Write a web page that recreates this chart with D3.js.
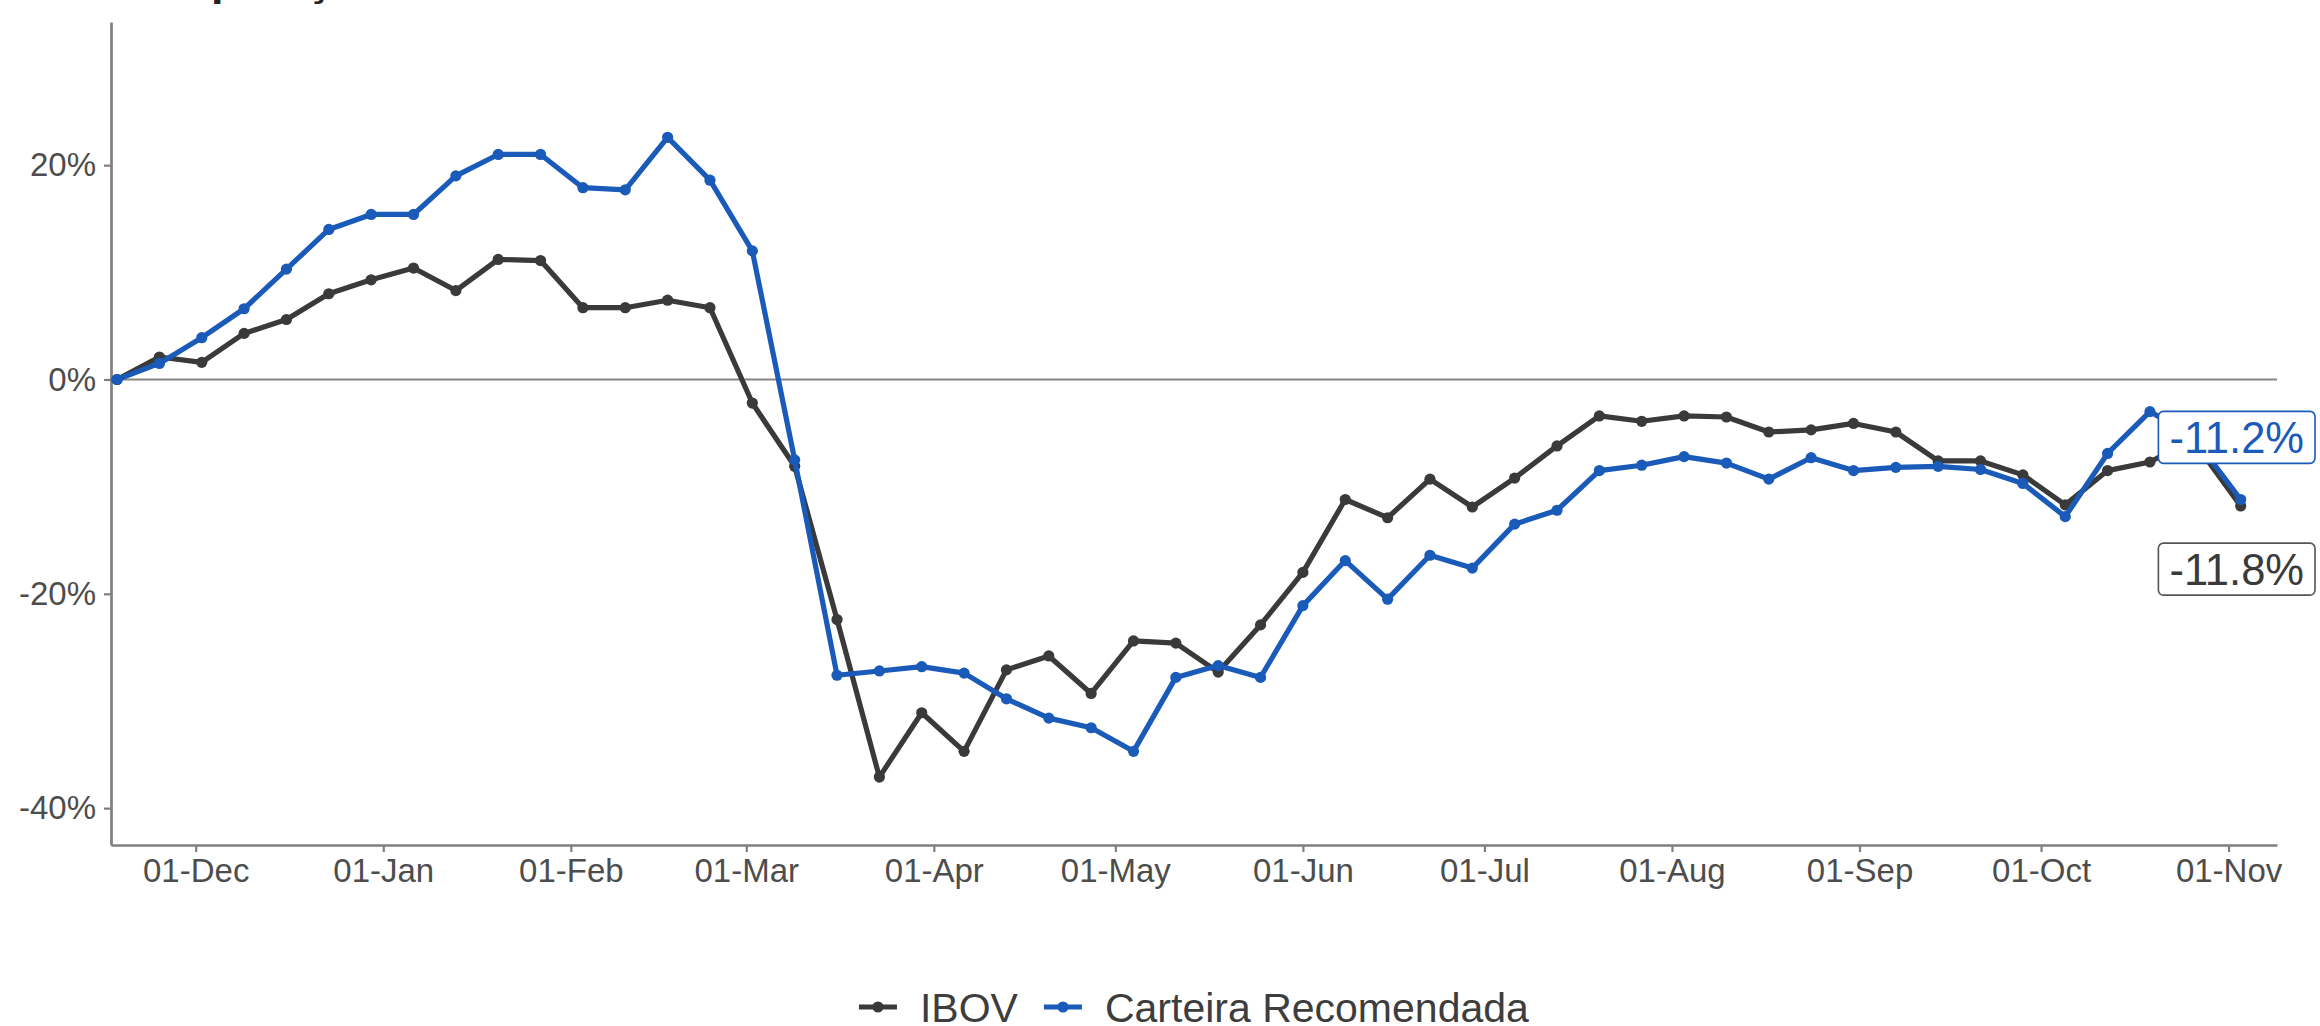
<!DOCTYPE html>
<html>
<head>
<meta charset="utf-8">
<script src="https://cdn.jsdelivr.net/npm/d3@7"></script>
<style>
  body { margin: 0; background: #fff; }
  svg { display: block; font-family: "Liberation Sans", Arial, sans-serif; }
</style>
</head>
<body>
<div id="chartDiv"></div>
<script>
// datas semanais
const datas = [
  "2019-11-18", "2019-11-25", "2019-12-02", "2019-12-09", "2019-12-16", "2019-12-23", "2019-12-30",
  "2020-01-06", "2020-01-13", "2020-01-20", "2020-01-27", "2020-02-03", "2020-02-10", "2020-02-17",
  "2020-02-24", "2020-03-02", "2020-03-09", "2020-03-16", "2020-03-23", "2020-03-30", "2020-04-06",
  "2020-04-13", "2020-04-20", "2020-04-27", "2020-05-04", "2020-05-11", "2020-05-18", "2020-05-25",
  "2020-06-01", "2020-06-08", "2020-06-15", "2020-06-22", "2020-06-29", "2020-07-06", "2020-07-13",
  "2020-07-20", "2020-07-27", "2020-08-03", "2020-08-10", "2020-08-17", "2020-08-24", "2020-08-31",
  "2020-09-07", "2020-09-14", "2020-09-21", "2020-09-28", "2020-10-05", "2020-10-12", "2020-10-19",
  "2020-10-26", "2020-11-03"
];

const ibov = [
  0, 2.1, 1.6, 4.3, 5.6, 8.0, 9.3, 10.4, 8.3, 11.2, 11.1, 6.7, 6.7, 7.4, 6.7,
  -2.2, -8.1, -22.4, -37.1, -31.1, -34.7, -27.1, -25.8, -29.3, -24.4, -24.6, -27.3, -22.9,
  -18.0, -11.2, -12.9, -9.3, -11.9, -9.2, -6.2, -3.4, -3.9, -3.4, -3.5, -4.9, -4.7,
  -4.1, -4.9, -7.6, -7.6, -8.9, -11.7, -8.5, -7.7, -5.6, -11.8
];

const carteira = [
  0, 1.5, 3.9, 6.6, 10.3, 14.0, 15.4, 15.4, 19.0, 21.0, 21.0, 17.9, 17.7, 22.6, 18.6,
  12.0, -7.5, -27.6, -27.2, -26.8, -27.4, -29.8, -31.6, -32.5, -34.7, -27.8, -26.7, -27.8,
  -21.1, -16.9, -20.5, -16.4, -17.6, -13.5, -12.2, -8.5, -8.0, -7.2, -7.8, -9.3, -7.3,
  -8.5, -8.2, -8.1, -8.4, -9.7, -12.8, -6.9, -3.0, -5.2, -11.2
];

const series = ["IBOV", "Carteira Recomendada"];
const cores = ["#3a3a3a", "#1a5ab8"];
const yTicks = [-40, -20, 0, 20];
const xTicks = ["2019-12-01", "2020-01-01", "2020-02-01", "2020-03-01", "2020-04-01", "2020-05-01",
  "2020-06-01", "2020-07-01", "2020-08-01", "2020-09-01", "2020-10-01", "2020-11-01"];
const rotulos = ["-11.8%", "-11.2%"];

const width = 2320;
const height = 1026;
const margin = {top: 22, right: 43, bottom: 181, left: 111};

const parse = d3.timeParse("%Y-%m-%d");
const dates = datas.map(parse);

const x = d3.scaleTime()
    .domain([parse("2019-11-17"), parse("2020-11-09")])
    .range([margin.left, width - margin.right]);

const y = d3.scaleLinear()
    .domain([-43.44, 33.36])
    .range([height - margin.bottom, margin.top]);

const svg = d3.select("#chartDiv").append("svg")
    .attr("width", width)
    .attr("height", height)
    .attr("viewBox", [0, 0, width, height]);

// titulo (cortado no topo)
svg.append("text")
    .attr("x", margin.left)
    .attr("y", -5)
    .attr("font-size", 45)
    .attr("font-weight", "bold")
    .attr("fill", "#222")
    .text("Comparação de Rentabilidade");

// linha do zero
svg.append("line")
    .attr("x1", margin.left)
    .attr("x2", width - margin.right)
    .attr("y1", y(0))
    .attr("y2", y(0))
    .attr("stroke", "#858585")
    .attr("stroke-width", 2);

const xAxis = svg.append("g")
    .attr("transform", `translate(0,${height - margin.bottom})`)
    .call(d3.axisBottom(x)
      .tickValues(xTicks.map(parse))
      .tickFormat(d3.timeFormat("%d-%b"))
      .tickSize(7)
      .tickSizeOuter(0)
      .tickPadding(7));

const yAxis = svg.append("g")
    .attr("transform", `translate(${margin.left},0)`)
    .call(d3.axisLeft(y)
      .tickValues(yTicks)
      .tickFormat(d => `${d}%`)
      .tickSize(7)
      .tickSizeOuter(0)
      .tickPadding(8));

[xAxis, yAxis].map(a => {
  a.select(".domain").attr("stroke", "#7f7f7f").attr("stroke-width", 2.7);
  a.selectAll(".tick line").attr("stroke", "#7f7f7f").attr("stroke-width", 2.2);
  a.selectAll(".tick text")
      .attr("font-size", 33)
      .attr("fill", "#4d4d4d")
      .attr("font-family", "'Liberation Sans', Arial, sans-serif");
});

const valores = [ibov, carteira];

const line = d3.line()
    .x((d, i) => x(dates[i]))
    .y(d => y(d));

valores.map((vals, k) => {
  const g = svg.append("g");
  g.append("path")
      .datum(vals)
      .attr("fill", "none")
      .attr("stroke", cores[k])
      .attr("stroke-width", 5.2)
      .attr("stroke-linejoin", "round")
      .attr("d", line);
  g.selectAll("circle")
      .data(vals)
      .enter().append("circle")
      .attr("cx", (d, i) => x(dates[i]))
      .attr("cy", d => y(d))
      .attr("r", 5.6)
      .attr("fill", cores[k]);
});

// rotulos do ultimo valor
const nudges = [-5.9, 5.8];
valores.map((vals, k) => {
  const last = vals.length - 1;
  const g = svg.append("g")
      .attr("transform", `translate(${x(dates[last]) - 4},${y(vals[last] + nudges[k])})`);
  const t = g.append("text")
      .attr("text-anchor", "middle")
      .attr("dy", "0.36em")
      .attr("font-size", 43.5)
      .attr("fill", cores[k])
      .text(rotulos[k]);
  const w = t.node().getComputedTextLength();
  g.insert("rect", "text")
      .attr("x", -w / 2 - 11)
      .attr("y", -26)
      .attr("width", w + 22)
      .attr("height", 52)
      .attr("rx", 5)
      .attr("fill", "#fff")
      .attr("stroke", k == 0 ? "#555" : cores[k])
      .attr("stroke-width", 1.6);
});

// legenda
const legend = svg.append("g");
let lx = 0;
series.map((s, k) => {
  const item = legend.append("g").attr("transform", `translate(${lx},0)`);
  item.append("line")
      .attr("x1", 0).attr("x2", 38)
      .attr("stroke", cores[k])
      .attr("stroke-width", 5.2);
  item.append("circle")
      .attr("cx", 19)
      .attr("r", 5.6)
      .attr("fill", cores[k]);
  const t = item.append("text")
      .attr("x", 61)
      .attr("dy", "0.36em")
      .attr("font-size", 41)
      .attr("fill", "#3d3d3d")
      .text(s);
  lx += 61 + t.node().getComputedTextLength() + 26;
});
const lw = legend.node().getBBox().width;
legend.attr("transform", `translate(${(margin.left + width - margin.right) / 2 - lw / 2},1007)`);
</script>
</body>
</html>
